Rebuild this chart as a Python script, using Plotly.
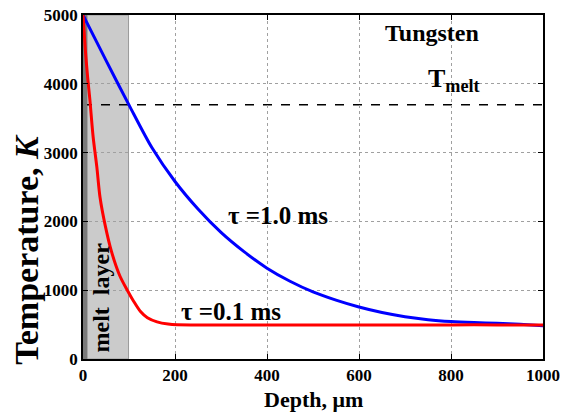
import plotly.graph_objects as go

# Data
depth_01 = [0, 5, 10, 15, 22, 30, 37, 48, 62, 80, 96, 110, 125, 140, 161, 185, 205, 300, 400, 500, 600, 700, 800, 900, 1000]
temp_01 = [5000, 4500, 4100, 3765, 3230, 2795, 2350, 1950, 1560, 1210, 1003, 840, 690, 600, 540, 508, 498, 496, 496, 496, 496, 496, 496, 496, 494]

depth_10 = [0, 50, 101, 150, 200, 250, 300, 350, 400, 450, 500, 550, 600, 650, 700, 750, 800, 850, 900, 950, 1000]
temp_10 = [5000, 4340, 3680, 3070, 2580, 2180, 1840, 1560, 1320, 1130, 975, 855, 755, 675, 615, 572, 545, 530, 520, 505, 485]

t_melt = 3695
melt_dark = [0, 9]
melt_light = [9, 99]

x_ticks = [0, 200, 400, 600, 800, 1000]
y_ticks = [0, 1000, 2000, 3000, 4000, 5000]
x_ticklabels = ["<b>%d</b>" % v for v in x_ticks]
y_ticklabels = ["<b>%d</b>" % v for v in y_ticks]

FONT = "Times New Roman, Liberation Serif, Times, serif"

fig = go.Figure()
fig.add_trace(go.Scatter(x=depth_10, y=temp_10, mode="lines",
                         line=dict(color="#0000ff", width=3, shape="spline", smoothing=0.8), showlegend=False))
fig.add_trace(go.Scatter(x=depth_01, y=temp_01, mode="lines",
                         line=dict(color="#ff0000", width=3, shape="spline", smoothing=0.8), showlegend=False))

shapes = [
    dict(type="rect", xref="x", yref="y", x0=melt_light[0], x1=melt_light[1], y0=0, y1=5000,
         fillcolor="#cbcbcb", line=dict(color="#9a9a9a", width=1), layer="below"),
    dict(type="line", xref="x", yref="y", x0=0, x1=1000, y0=t_melt, y1=t_melt,
         line=dict(color="black", width=1.5, dash="dash"), layer="below"),
    dict(type="rect", xref="x", yref="y", x0=melt_dark[0], x1=melt_dark[1], y0=0, y1=5000,
         fillcolor="#7a7a7a", line=dict(width=0), layer="below"),
]

annotations = [
    dict(x=759, y=4740, xref="x", yref="y", text="<b>Tungsten</b>", showarrow=False,
         font=dict(family=FONT, size=24, color="black")),
    dict(x=806, y=4060, xref="x", yref="y", text="<b>T<sub>melt</sub></b>", showarrow=False,
         font=dict(family=FONT, size=26, color="black")),
    dict(x=424, y=2093, xref="x", yref="y", text="<b>τ =1.0 ms</b>", showarrow=False,
         font=dict(family=FONT, size=25, color="black")),
    dict(x=322, y=690, xref="x", yref="y", text="<b>τ =0.1 ms</b>", showarrow=False,
         font=dict(family=FONT, size=25, color="black")),
    dict(x=40, y=900, xref="x", yref="y", text="<b>melt  layer</b>", showarrow=False, textangle=-90,
         font=dict(family=FONT, size=24, color="black")),
    dict(x=0.5, y=-0.118, xref="paper", yref="paper", text="<b>Depth, μm</b>", showarrow=False,
         xanchor="center", yanchor="middle", font=dict(family=FONT, size=22, color="black")),
    dict(x=-0.122, y=0.32, xref="paper", yref="paper", text="<b>Temperature, <i>K</i></b>", showarrow=False,
         textangle=-90, xanchor="center", yanchor="middle", font=dict(family=FONT, size=34, color="black")),
]

axis_common = dict(
    showline=True, linecolor="black", linewidth=1.5, mirror="ticks",
    ticks="inside", ticklen=5, tickcolor="black", tickwidth=1,
    showgrid=True, gridcolor="#a0a0a0", gridwidth=1, griddash="dot",
    zeroline=False, automargin=False,
    tickfont=dict(family=FONT, size=17, color="black"),
)

fig.update_layout(
    width=566, height=412,
    margin=dict(l=83, r=23, t=15, b=53),
    font=dict(family=FONT, color="black"),
    paper_bgcolor="white", plot_bgcolor="white",
    xaxis=dict(range=[0, 1000], tickvals=x_ticks, ticktext=x_ticklabels, **axis_common),
    yaxis=dict(range=[0, 5000], tickvals=y_ticks, ticktext=y_ticklabels, **axis_common),
    shapes=shapes, annotations=annotations,
)

fig.write_html("out.html", config={"displayModeBar": False},
               post_script="document.body.style.margin='0';")
